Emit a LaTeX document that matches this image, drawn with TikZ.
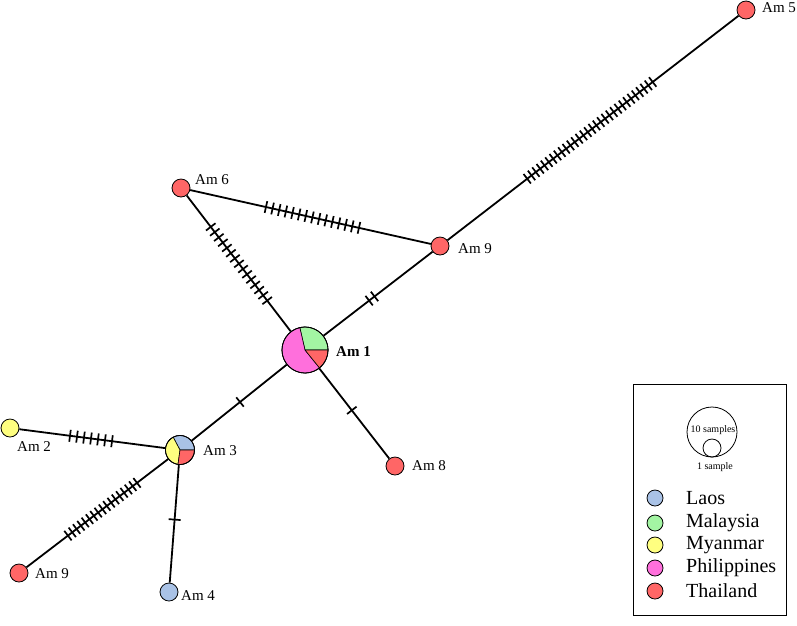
\documentclass[tikz,border=0pt]{standalone}
\usepackage{fontspec}
\setmainfont{Liberation Serif}
\usepackage{xcolor}
\usepackage{tikz}
\usetikzlibrary{calc}

\definecolor{laos}{HTML}{A9C2E6}
\definecolor{malaysia}{HTML}{A3F5A3}
\definecolor{myanmar}{HTML}{FFFF80}
\definecolor{philippines}{HTML}{FF6FDC}
\definecolor{thailand}{HTML}{FF6666}

% mutation ticks along the edge a--b, from fraction f to g, n ticks
\newcommand{\hatches}[5]{%
  \foreach \k in {1,...,#5}{%
    \pgfmathsetmacro{\frc}{#3+(#4-#3)*(\k-1)/max(#5-1,1)}%
    \draw[tick] ($(#1)!\frc!(#2)!6pt!90:(#2)$) -- ($(#1)!\frc!(#2)!6pt!-90:(#2)$);
  }}

\begin{document}
\begin{tikzpicture}[
    x=1pt, y=1pt,
    every node/.style={font=\fontsize{15}{17}\selectfont},
    hap/.style={circle, draw, line width=0.8pt, minimum size=18pt, inner sep=0pt},
    lbl/.style={anchor=west, inner sep=0pt},
    edge/.style={line width=1.8pt},
    tick/.style={line width=1.7pt},
    wedge/.style={draw, line width=0.6pt}
]
\useasboundingbox (0,0) rectangle (797,-625);

% Haplotype nodes
\node[hap, minimum size=46pt] (am1) at (305,-350) {};
\node[hap, minimum size=29pt] (am3) at (180,-450) {};
\node[hap, fill=myanmar]  (am2)  at (10,-428) {};
\node[hap, fill=thailand] (am9l) at (19,-573) {};
\node[hap, fill=laos]     (am4)  at (169,-592) {};
\node[hap, fill=thailand] (am8)  at (395,-466) {};
\node[hap, fill=thailand] (am9u) at (440,-246) {};
\node[hap, fill=thailand] (am6)  at (181,-188) {};
\node[hap, fill=thailand] (am5)  at (746,-10) {};

% Pie slices
\filldraw[wedge, fill=malaysia] (am1.center) -- ++(0:23) arc[start angle=0, end angle=103, radius=23] -- cycle;
\filldraw[wedge, fill=philippines] (am1.center) -- ++(103:23) arc[start angle=103, end angle=309, radius=23] -- cycle;
\filldraw[wedge, fill=thailand] (am1.center) -- ++(309:23) arc[start angle=309, end angle=360, radius=23] -- cycle;
\filldraw[wedge, fill=laos] (am3.center) -- ++(0:14.5) arc[start angle=0, end angle=118, radius=14.5] -- cycle;
\filldraw[wedge, fill=myanmar] (am3.center) -- ++(118:14.5) arc[start angle=118, end angle=262, radius=14.5] -- cycle;
\filldraw[wedge, fill=thailand] (am3.center) -- ++(262:14.5) arc[start angle=262, end angle=360, radius=14.5] -- cycle;
\draw[line width=0.8pt] (am1.center) circle[radius=23];
\draw[line width=0.8pt] (am3.center) circle[radius=14.5];

% Labels
\node[lbl, font=\fontsize{15}{17}\selectfont\bfseries] (lam1) at (336,-352) {Am 1};
\node[lbl] (lam3)  at (203,-451) {Am 3};
\node[lbl] (lam2)  at (17,-447) {Am 2};
\node[lbl] (lam9l) at (35,-574) {Am 9};
\node[lbl] (lam4)  at (181,-596) {Am 4};
\node[lbl] (lam8)  at (412,-466) {Am 8};
\node[lbl] (lam9u) at (458,-249) {Am 9};
\node[lbl] (lam6)  at (195,-180) {Am 6};
\node[lbl] (lam5)  at (762,-8) {Am 5};

% Edges
\draw[edge] (am1) -- (am9u);
\draw[edge] (am9u) -- (am5);
\draw[edge] (am6) -- (am9u);
\draw[edge] (am6) -- (am1);
\draw[edge] (am1) -- (am3);
\draw[edge] (am1) -- (am8);
\draw[edge] (am3) -- (am2);
\draw[edge] (am3) -- (am9l);
\draw[edge] (am3) -- (am4);

% Mutations
\hatches{am9u}{am5}{0.285}{0.695}{30}
\hatches{am1}{am9u}{0.475}{0.515}{2}
\hatches{am6}{am9u}{0.328}{0.687}{15}
\hatches{am6}{am1}{0.24}{0.695}{15}
\hatches{am3}{am2}{0.4}{0.647}{7}
\hatches{am3}{am9l}{0.267}{0.696}{17}
\hatches{am1}{am3}{0.52}{0.52}{1}
\hatches{am1}{am8}{0.52}{0.52}{1}
\hatches{am3}{am4}{0.49}{0.49}{1}

% Legend
\node[draw, line width=1pt, minimum width=153pt, minimum height=231pt, inner sep=0pt] (legend) at (709.5,-499.5) {};
\node[hap, minimum size=50pt] (big) at (712,-432) {};
\node[hap, minimum size=18pt] (small) at (712,-448) {};
\node[font=\fontsize{10}{12}\selectfont, inner sep=0pt] (tbig) at (713,-430) {10 samples};
\node[font=\fontsize{10}{12}\selectfont, inner sep=0pt] (tsmall) at (715,-467) {1 sample};
\foreach \i/\y/\c/\t in {1/498/laos/Laos, 2/523/malaysia/Malaysia, 3/545/myanmar/Myanmar,
                         4/568/philippines/Philippines, 5/591/thailand/Thailand}{
  \node[hap, minimum size=16pt, fill=\c] (key\i) at (655,-\y) {};
  \node[lbl, font=\fontsize{20}{22}\selectfont] (txt\i) at (686,-\y) {\t};
}

\end{tikzpicture}
\end{document}
